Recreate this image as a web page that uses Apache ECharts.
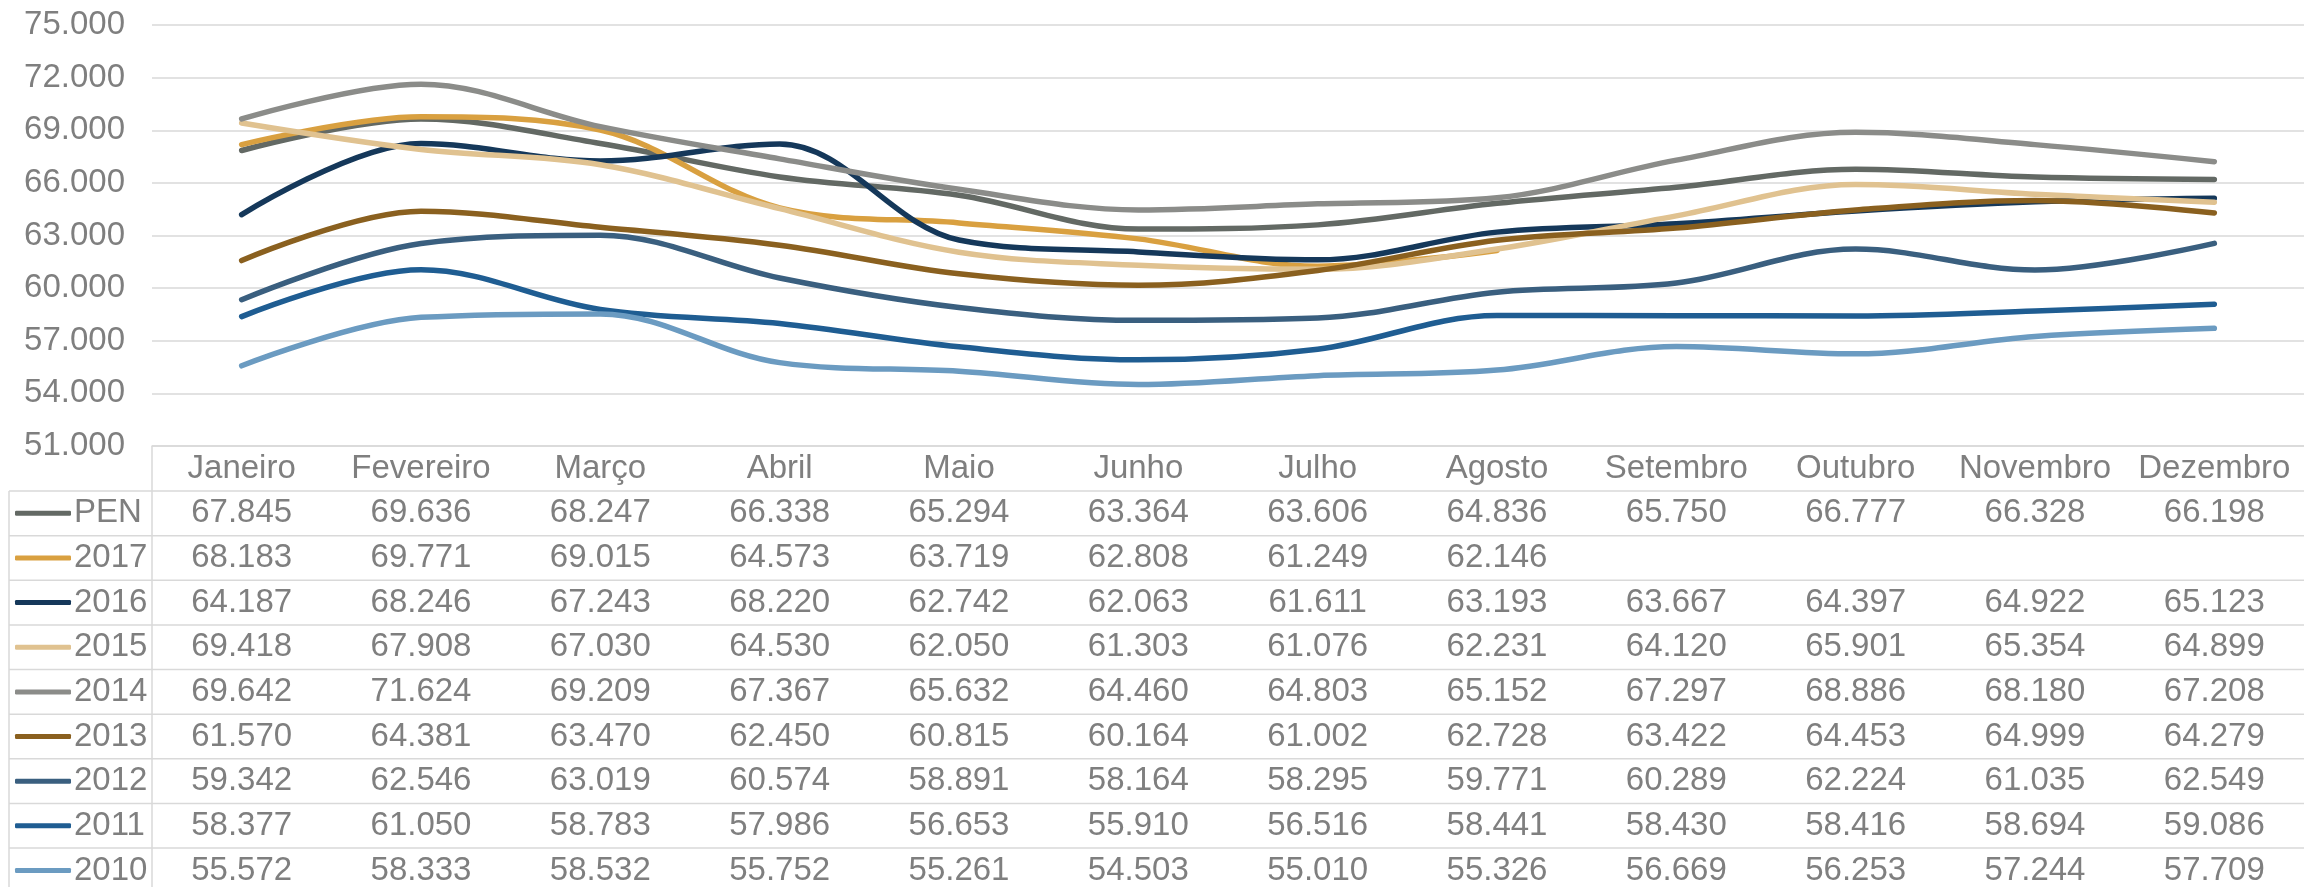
<!DOCTYPE html>
<html>
<head>
<meta charset="utf-8">
<title>PEN</title>
<script src="https://cdn.jsdelivr.net/npm/echarts@6/dist/echarts.min.js"></script>
<style>
html, body { margin: 0; padding: 0; background: #fff; }
#main { width: 2304px; height: 887px; }
</style>
</head>
<body>
<div id="main"></div>
<script>
/* dados */
var months = ['Janeiro', 'Fevereiro', 'Março', 'Abril', 'Maio', 'Junho', 'Julho', 'Agosto', 'Setembro', 'Outubro', 'Novembro', 'Dezembro'];
var seriesNames = ['PEN', '2017', '2016', '2015', '2014', '2013', '2012', '2011', '2010'];
var yTicks = [51000, 54000, 57000, 60000, 63000, 66000, 69000, 72000, 75000];

var pen   = [67845, 69636, 68247, 66338, 65294, 63364, 63606, 64836, 65750, 66777, 66328, 66198];
var y2017 = [68183, 69771, 69015, 64573, 63719, 62808, 61249, 62146, null, null, null, null];
var y2016 = [64187, 68246, 67243, 68220, 62742, 62063, 61611, 63193, 63667, 64397, 64922, 65123];
var y2015 = [69418, 67908, 67030, 64530, 62050, 61303, 61076, 62231, 64120, 65901, 65354, 64899];
var y2014 = [69642, 71624, 69209, 67367, 65632, 64460, 64803, 65152, 67297, 68886, 68180, 67208];
var y2013 = [61570, 64381, 63470, 62450, 60815, 60164, 61002, 62728, 63422, 64453, 64999, 64279];
var y2012 = [59342, 62546, 63019, 60574, 58891, 58164, 58295, 59771, 60289, 62224, 61035, 62549];
var y2011 = [58377, 61050, 58783, 57986, 56653, 55910, 56516, 58441, 58430, 58416, 58694, 59086];
var y2010 = [55572, 58333, 58532, 55752, 55261, 54503, 55010, 55326, 56669, 56253, 57244, 57709];

var allData = [pen, y2017, y2016, y2015, y2014, y2013, y2012, y2011, y2010];
var colors = ['#636964', '#d9a040', '#15385a', '#e0c290', '#8b8c89', '#8a601f', '#3a5f7f', '#1f5d92', '#6b9bc1'];

var FONT = '"Liberation Sans", Arial, sans-serif';
var FSIZE = 33;
var GRAY = '#7f7f7f';
var LINE = '#d9d9d9';

/* 67845 -> 67.845 */
function fmt(v){
	var s = String(v);
	return s.slice(0, -3) + '.' + s.slice(-3);
}

var chart = echarts.init(document.getElementById('main'));

var series = [];
for (var i = 0; i < seriesNames.length; i++) {
	series.push({
		name : seriesNames[i],
		type : 'line',
		data : allData[i],
		smooth : 0.35,
		symbol : 'none',
		connectNulls : false,
		lineStyle : { width : 5.5, color : colors[i], cap : 'round', join : 'round' },
		itemStyle : { color : colors[i] },
		emphasis : { disabled : true }
	});
}

var option = {
	animation : false,
	color : colors,
	grid : {
		left : 152,
		right : 0,
		top : 25,
		bottom : 441,
		containLabel : false,
		outerBoundsMode : 'none'
	},
	legend : {
		orient : 'vertical',
		left : 15,
		top : 491,
		height : 420,
		itemWidth : 56,
		itemHeight : 5,
		itemGap : 0,
		icon : 'roundRect',
		padding : 0,
		data : seriesNames,
		selectedMode : false,
		textStyle : {
			fontSize : FSIZE,
			fontFamily : FONT,
			color : GRAY,
			lineHeight : 44.64,
			padding : [0, 0, 0, -2]
		}
	},
	xAxis : {
		type : 'category',
		data : months,
		boundaryGap : true,
		axisLine : { show : true, lineStyle : { color : LINE, width : 1.5 } },
		axisTick : { show : false },
		splitLine : { show : false },
		axisLabel : {
			interval : 0,
			margin : 6,
			fontSize : FSIZE,
			fontFamily : FONT,
			color : GRAY
		}
	},
	yAxis : {
		type : 'value',
		min : yTicks[0],
		max : yTicks[yTicks.length - 1],
		interval : 3000,
		axisLine : { show : false },
		axisTick : { show : false },
		splitLine : { lineStyle : { color : LINE, width : 1.5 } },
		axisLabel : {
			margin : 27,
			fontSize : FSIZE,
			fontFamily : FONT,
			color : GRAY,
			formatter : function(v){ return fmt(v); }
		}
	},
	series : series
};
chart.setOption(option);

/* tabela de dados abaixo do gráfico */
function buildTable(){
	var rowTop = 491, rowH = 44.64, left = 9, axisX = 152, right = 2304, bottom = 887;
	var els = [];
	for (var k = 0; k <= seriesNames.length; k++) {
		var y = rowTop + k * rowH;
		els.push({ type : 'line', silent : true, shape : { x1 : left, y1 : y, x2 : right, y2 : y }, style : { stroke : LINE, lineWidth : 1.5 } });
	}
	els.push({ type : 'line', silent : true, shape : { x1 : axisX, y1 : 446, x2 : axisX, y2 : bottom }, style : { stroke : LINE, lineWidth : 1.5 } });
	els.push({ type : 'line', silent : true, shape : { x1 : left, y1 : rowTop, x2 : left, y2 : bottom }, style : { stroke : LINE, lineWidth : 1.5 } });

	for (var s = 0; s < allData.length; s++) {
		var cy = rowTop + (s + 0.5) * rowH;
		for (var m = 0; m < months.length; m++) {
			var v = allData[s][m];
			if (v == null) continue;
			var cx = chart.convertToPixel({ xAxisIndex : 0 }, months[m]);
			els.push({
				type : 'text',
				silent : true,
				style : {
					text : fmt(v),
					x : cx,
					y : cy,
					align : 'center',
					verticalAlign : 'middle',
					fontSize : FSIZE,
					fontFamily : FONT,
					fill : GRAY
				}
			});
		}
	}
	chart.setOption({ graphic : { elements : els } });
}
buildTable();
</script>
</body>
</html>
